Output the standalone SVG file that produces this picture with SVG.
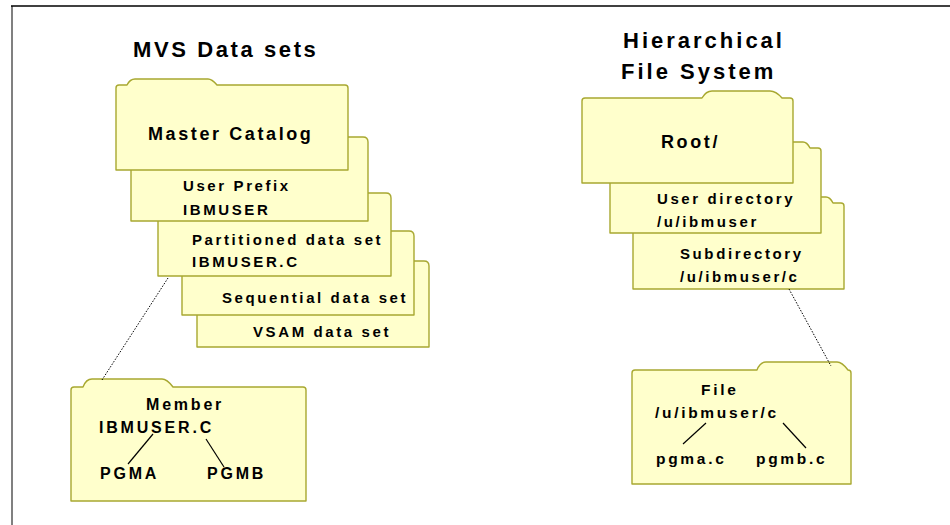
<svg xmlns="http://www.w3.org/2000/svg" width="950" height="525" viewBox="0 0 950 525">
<style>
.folder{fill:#FFFFCC;stroke:#A8A830;stroke-width:1.4;stroke-linejoin:round}
text{font-family:"Liberation Sans",Arial,sans-serif;font-weight:bold;fill:#000}
.t{font-size:22px;letter-spacing:3px}
.l{font-size:18px;letter-spacing:2.6px}
.m{font-size:15px;letter-spacing:2.6px}
.s{font-size:16px;letter-spacing:2.8px}
.f{font-size:15.5px;letter-spacing:2.7px}
.dot{stroke:#000;stroke-width:1;stroke-dasharray:1.5 1.5;fill:none}
.tree{stroke:#000;stroke-width:1.2;fill:none}
</style>
<rect width="950" height="525" fill="#fff"/>
<g id="frame">
<line x1="12" y1="6" x2="12" y2="525" stroke="#808080" stroke-width="2"/>
<line x1="11" y1="6" x2="950" y2="6" stroke="#000" stroke-width="1.5"/>
</g>
<g id="titles">
<text class="t" x="133" y="57" style="letter-spacing:2.6px">MVS Data sets</text>
<text class="t" x="623" y="48">Hierarchical</text>
<text class="t" x="621" y="79">File System</text>
</g>
<g id="vsam">
<path class="folder" d="M197,347 L197,266 Q197,261 202,261 L424,261 Q429,261 429,266 L429,347 Z"/>
<text class="m" x="253" y="337">VSAM data set</text>
</g>
<g id="sequential">
<path class="folder" d="M182,315 L182,236 Q182,231 187,231 L409,231 Q414,231 414,236 L414,315 Z"/>
<text class="m" x="222" y="303">Sequential data set</text>
</g>
<g id="partitioned">
<path class="folder" d="M158,276 L158,198 Q158,193 163,193 L386,193 Q391,193 391,198 L391,276 Z"/>
<text class="m" x="192" y="245">Partitioned data set</text>
<text class="m" x="192" y="267">IBMUSER.C</text>
</g>
<g id="userprefix">
<path class="folder" d="M131,221 L131,142 Q131,137 136,137 L363,137 Q368,137 368,142 L368,221 Z"/>
<text class="m" x="183" y="191">User Prefix</text>
<text class="m" x="183" y="215">IBMUSER</text>
</g>
<g id="mastercatalog">
<path class="folder" d="M116,170 L116,88 Q116,85 119,85 L127,85 Q130,79 135,79 L208,79 Q212,79 217,85 L345,85 Q348,85 348,88 L348,170 Z"/>
<text class="l" x="148" y="140">Master Catalog</text>
</g>
<g id="member">
<path class="folder" d="M71,501 L71,390 Q71,387 74,387 L83,387 Q86,379 92,379 L162,379 Q167,379 173,387 L303,387 Q306,387 306,390 L306,501 Z"/>
<text class="s" x="146" y="410">Member</text>
<text class="s" x="99" y="433">IBMUSER.C</text>
<text class="s" x="100" y="479">PGMA</text>
<text class="s" x="207" y="479">PGMB</text>
</g>
<g id="subdirectory">
<path class="folder" d="M633,289 L633,206 Q633,203 636,203 L745,203 Q749,197 754,197 L826,197 Q830,197 833,203 L841,203 Q844,203 844,206 L844,289 Z"/>
<text class="m" x="680" y="259">Subdirectory</text>
<text class="m" x="680" y="282">/u/ibmuser/c</text>
</g>
<g id="userdirectory">
<path class="folder" d="M610,233 L610,151 Q610,148 613,148 L722,148 Q726,142 731,142 L803,142 Q807,142 810,148 L818,148 Q821,148 821,151 L821,233 Z"/>
<text class="m" x="657" y="204">User directory</text>
<text class="m" x="657" y="227">/u/ibmuser</text>
</g>
<g id="root">
<path class="folder" d="M582,183 L582,101 Q582,98 585,98 L702,98 Q706,91 712,91 L770,91 Q776,91 782,98 L790,98 Q793,98 793,101 L793,183 Z"/>
<text class="l" x="661" y="148">Root/</text>
</g>
<g id="file">
<path class="folder" d="M632,484 L632,373 Q632,370 635,370 L757,370 Q760,362 766,362 L837,362 Q842,362 848,370 Q851,370 851,373 L851,484 Z"/>
<text class="f" x="701" y="395">File</text>
<text class="f" x="655" y="418">/u/ibmuser/c</text>
<text class="f" x="656" y="464">pgma.c</text>
<text class="f" x="756" y="464">pgmb.c</text>
</g>
<g id="connectors">
<line class="dot" x1="168" y1="278" x2="102" y2="380"/>
<line class="dot" x1="789" y1="289" x2="831" y2="366"/>
<line class="tree" x1="153" y1="434" x2="128" y2="464"/>
<line class="tree" x1="206" y1="439" x2="224" y2="467"/>
<line class="tree" x1="706" y1="423" x2="683" y2="444"/>
<line class="tree" x1="783" y1="423" x2="806" y2="448"/>
</g>
</svg>
